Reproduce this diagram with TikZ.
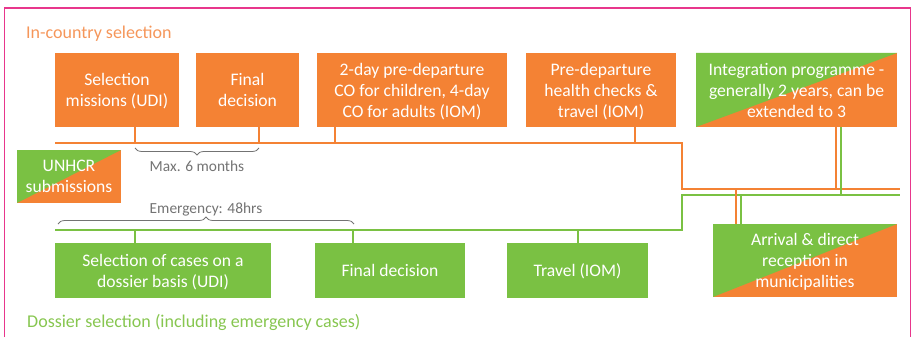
\documentclass[tikz,border=0pt]{standalone}
\usepackage{fontspec}
\setmainfont{Carlito}
\usetikzlibrary{positioning}
\usetikzlibrary{decorations.pathreplacing}
\definecolor{udiorange}{RGB}{244,130,52}
\definecolor{udigreen}{RGB}{122,193,67}
\definecolor{titleorange}{RGB}{245,150,90}
\definecolor{titlegreen}{RGB}{135,198,80}
\definecolor{framepink}{RGB}{232,54,140}
\definecolor{notegray}{RGB}{115,115,115}
\tikzset{
	box/.style={rectangle,inner sep=0pt,text depth=0pt,align=center,text=white,font=\fontsize{17.6}{21}\selectfont},
	obox/.style={box,fill=udiorange},
	gbox/.style={box,fill=udigreen},
	splitbox/.style={box,fill=udiorange,path picture={\fill[udigreen] (path picture bounding box.south west) -- (path picture bounding box.north west) -- (path picture bounding box.north east) -- cycle;}},
	oline/.style={udiorange,line width=2.3pt},
	gline/.style={udigreen,line width=2.3pt},
	span/.style={decorate,decoration={brace,amplitude=7pt},notegray,line width=0.8pt},
	note/.style={notegray,inner sep=0pt,anchor=base,font=\fontsize{15.4}{18}\selectfont},
	heading/.style={inner sep=0pt,anchor=base west,font=\fontsize{18}{21}\selectfont}
}

\begin{document}
\begin{tikzpicture}[x=1pt,y=-1pt]
		\useasboundingbox (0,0) rectangle (912,337);
		\draw[framepink,line width=1.3pt] (4.5,337) -- (4.5,8) -- (910.8,8) -- (910.8,337);
		\node[heading,text=titleorange] (incountry) at (26,39) {In-country selection};
		\node[heading,text=titlegreen] (dossiersel) at (27,327) {Dossier selection (including emergency cases)};
		\node[obox,minimum width=124,minimum height=74] (selmis) at (117,90) {Selection\\missions (UDI)};
		\node[obox,minimum width=103,minimum height=74] (findec) at (247.5,90) {Final\\decision};
		\node[obox,minimum width=190,minimum height=74] (predep) at (412,90) {2-day pre-departure\\CO for children, 4-day\\CO for adults (IOM)};
		\node[obox,minimum width=150,minimum height=74] (health) at (601,90) {Pre-departure\\health checks \&\\travel (IOM)};
		\node[splitbox,minimum width=201,minimum height=74] (integ) at (796.5,90) {Integration programme -\\generally 2 years, can be\\extended to 3};
		\node[splitbox,minimum width=104,minimum height=53] (unhcr) at (69,176.5) {UNHCR\\submissions};
		\node[gbox,minimum width=216,minimum height=55] (cases) at (163,270.5) {Selection of cases on a\\dossier basis (UDI)};
		\node[gbox,minimum width=150,minimum height=55] (gfinal) at (390,270.5) {Final decision};
		\node[gbox,minimum width=141,minimum height=55] (travel) at (577.5,270.5) {Travel (IOM)};
		\node[splitbox,minimum width=184,minimum height=73] (arrival) at (805,260.5) {Arrival \& direct\\reception in\\municipalities};
		\coordinate (obusW) at (55,143);
		\coordinate (obusK) at (682,143);
		\coordinate (obusJ) at (682,189);
		\coordinate (obusE) at (900,189);
		\coordinate (gbusW) at (55,230);
		\coordinate (gbusK) at (682,230);
		\coordinate (gbusJ) at (682,195);
		\coordinate (gbusE) at (900,195);
		\draw[oline] (obusW) -- (obusK) -- (obusJ) -- (obusE);
		\draw[gline] (gbusW) -- (gbusK) -- (gbusJ) -- (gbusE);
		\foreach \n/\x in {selmis/135,findec/259,predep/335,health/635}{
			\coordinate (s\n) at (\x,143);
			\draw[oline] (s\n) -- (s\n |- \n.south);
		}
		\foreach \n/\x in {cases/135,gfinal/353,travel/578}{
			\coordinate (s\n) at (\x,230);
			\draw[gline] (s\n) -- (s\n |- \n.north);
		}
		\coordinate (ointeg) at (836,189);
		\coordinate (ginteg) at (841,195);
		\coordinate (oarr) at (736,189);
		\coordinate (garr) at (741,195);
		\draw[oline] (ointeg) -- (ointeg |- integ.south);
		\draw[gline] (ginteg) -- (ginteg |- integ.south);
		\draw[oline] (oarr) -- (oarr |- arrival.north);
		\draw[gline] (garr) -- (garr |- arrival.north);
		\draw[span] (259,148) -- (135,148);
		\draw[span] (58,224) -- (354,224);
		\node[note] (maxsix) at (197,171) {Max. 6 months};
		\node[note] (emerg) at (206,213) {Emergency: 48hrs};
	\end{tikzpicture}
\end{document}
